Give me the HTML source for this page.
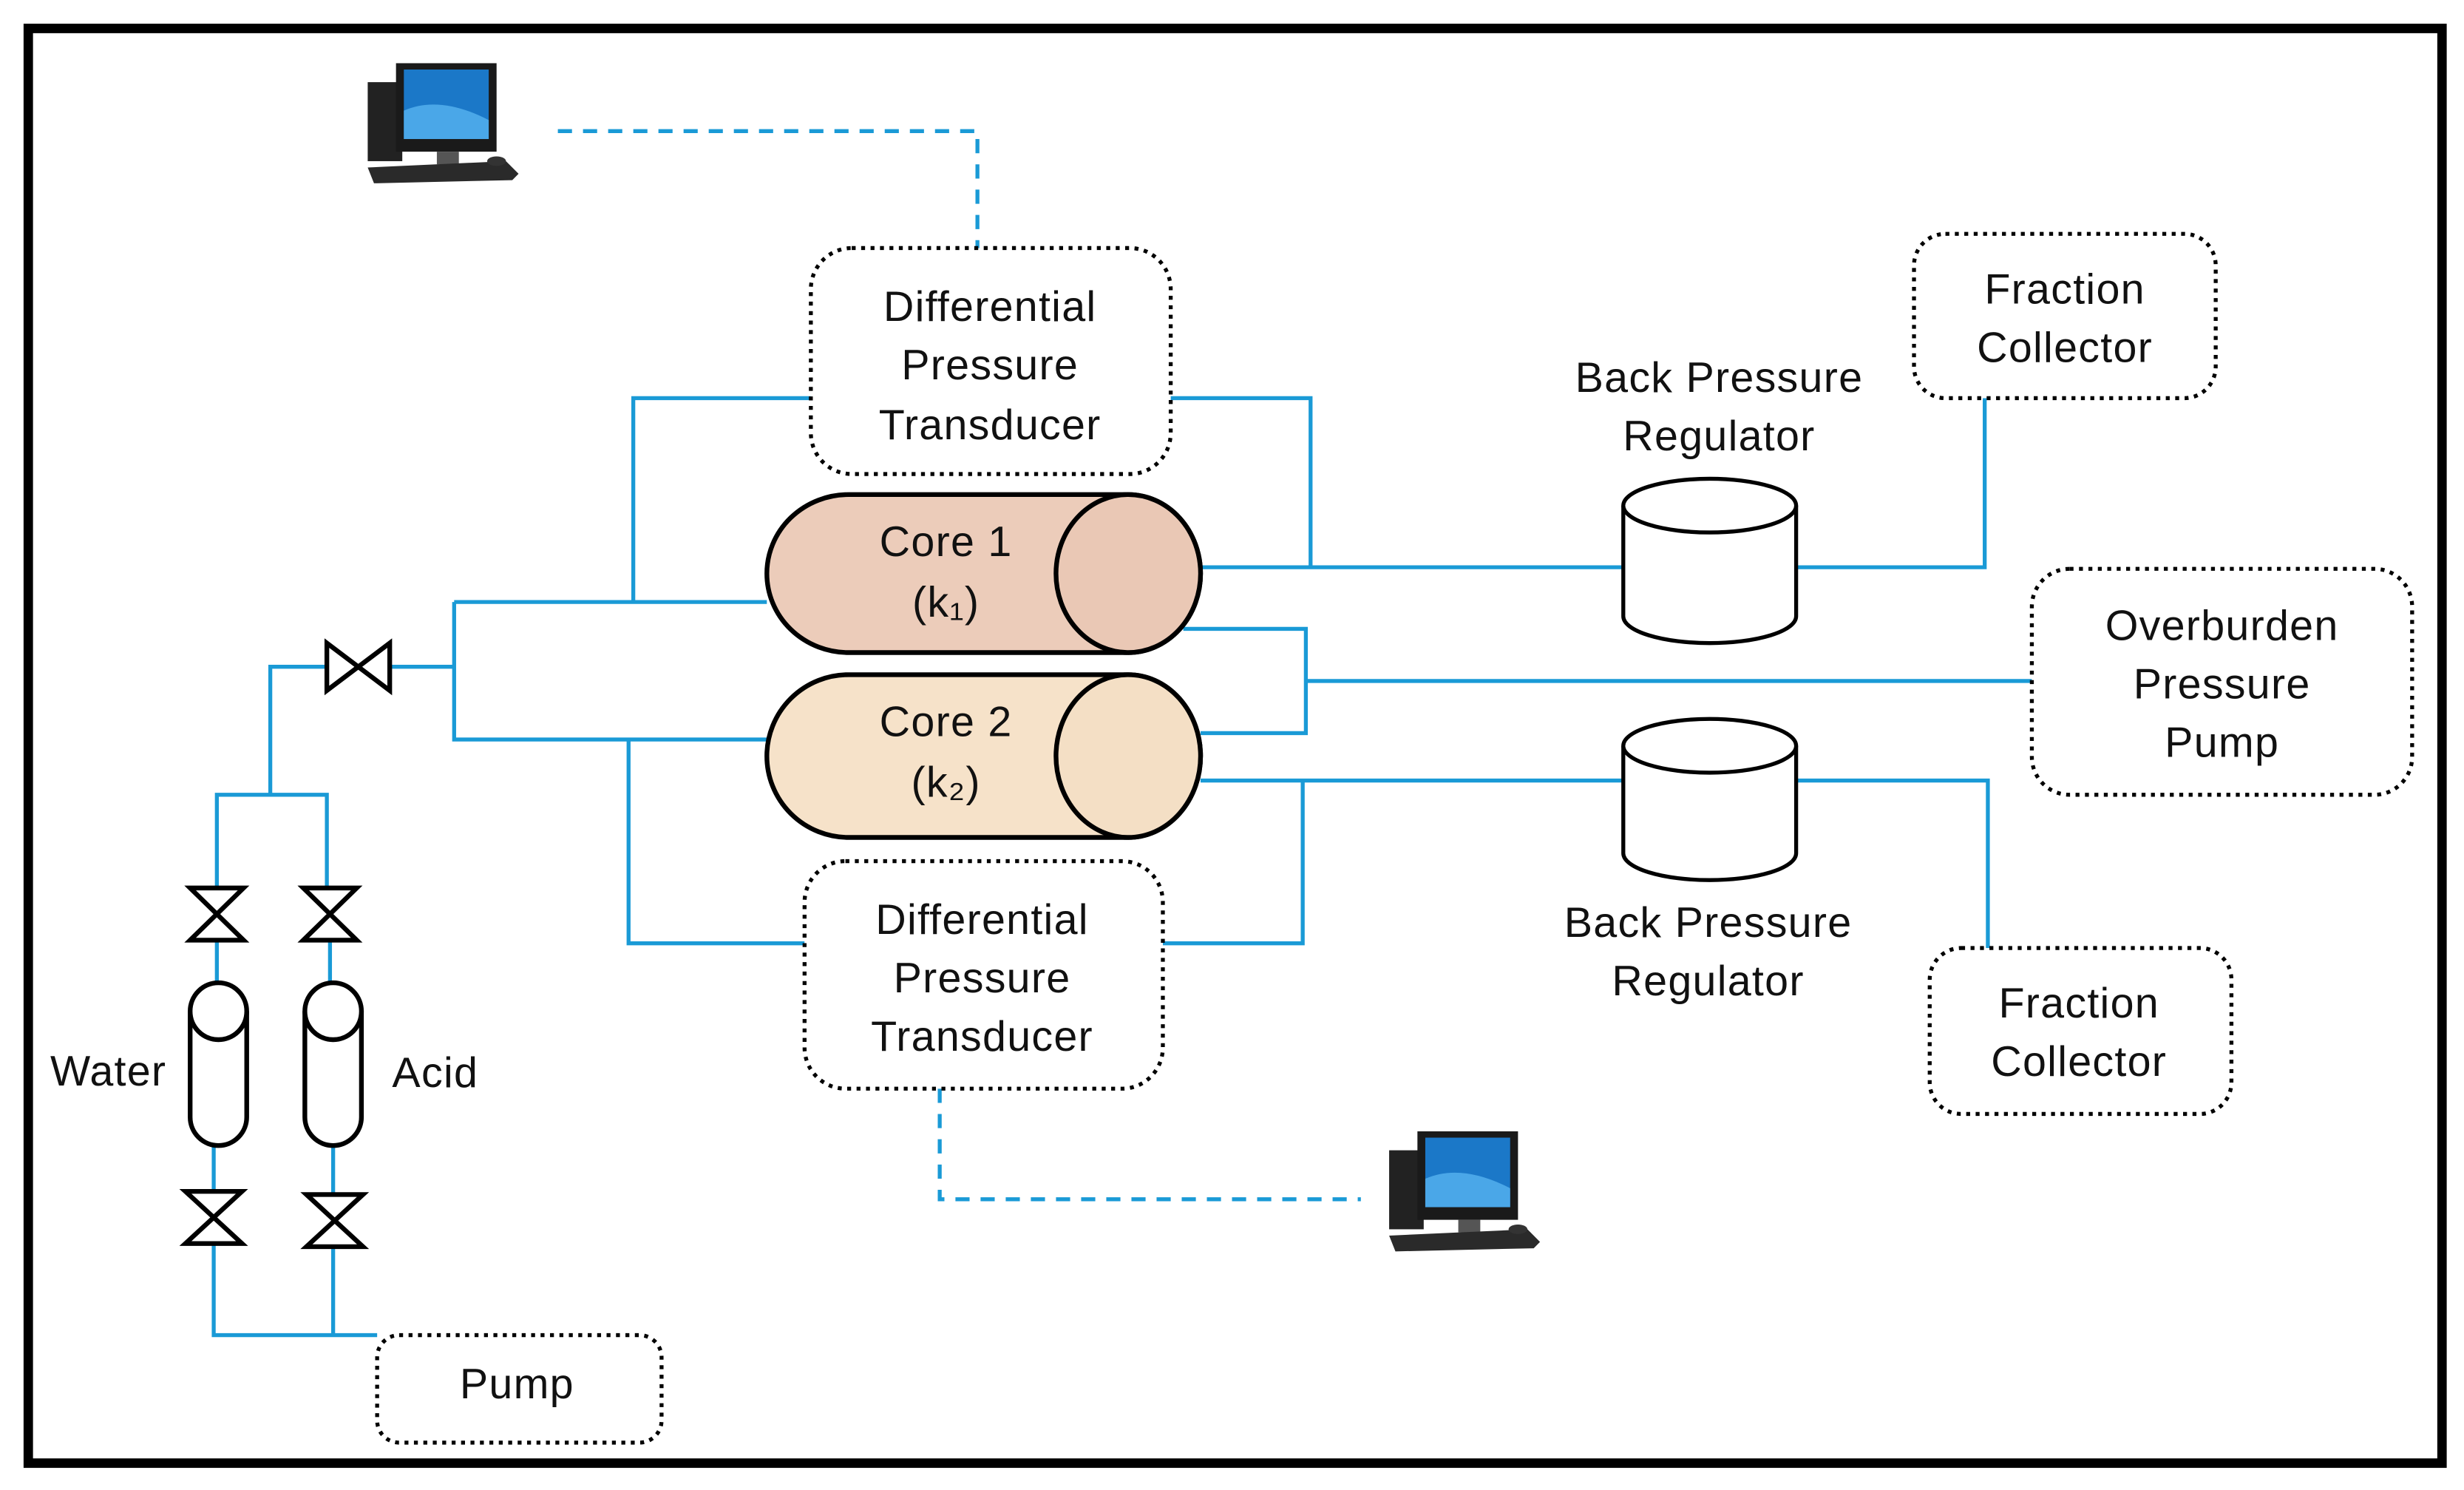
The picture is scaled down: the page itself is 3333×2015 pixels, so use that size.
<!DOCTYPE html>
<html><head><meta charset="utf-8"><style>
html,body{margin:0;padding:0;background:#fff;}
svg{display:block;}
text{font-family:"Liberation Sans","DejaVu Sans",sans-serif;font-size:27px;letter-spacing:0.6px;fill:#111;text-anchor:middle;}
</style></head><body>
<svg width="3333" height="2015" viewBox="0 0 1568 943" preserveAspectRatio="none" xmlns="http://www.w3.org/2000/svg">
<defs>
<g id="pc">
  <rect x="4" y="12" width="22" height="50" fill="#222"/>
  <rect x="22" y="0" width="64" height="56" fill="#1a1a1a"/>
  <rect x="27" y="4" width="54" height="44" fill="#1b78c8"/>
  <path d="M27 30 Q50 20 81 36 L81 48 L27 48Z" fill="#4aa7e8"/>
  <rect x="48" y="56" width="14" height="8" fill="#555"/>
  <path d="M4 66 L92 62 L100 70 L96 74 L8 76 Z" fill="#2a2a2a"/>
  <ellipse cx="86" cy="62" rx="6" ry="3" fill="#333"/>
</g>
</defs>
<rect x="18" y="18" width="1536" height="908" fill="none" stroke="#000" stroke-width="6"/>

<g fill="none" stroke="#1a9ad6" stroke-width="2.5">
  <path d="M355 83 H622 V157" stroke-dasharray="9 7"/>
  <path d="M598 689 V759 H866" stroke-dasharray="9 7"/>
  <path d="M403 381 V252 H516"/>
  <path d="M745 252 H834 V359"/>
  <path d="M764 359 H1033"/>
  <path d="M1143 359 H1263 V252"/>
  <path d="M289 381 H488 M289 381 V468 H488"/>
  <path d="M172 503 V422 H208 M248 422 H289"/>
  <path d="M138 562 V503 H208 V562"/>
  <path d="M138 595 V622 M210 595 V622"/>
  <path d="M136 725 V754 M212 725 V756"/>
  <path d="M136 787 V845 H240 M212 789 V845"/>
  <path d="M400 468 V597 H512"/>
  <path d="M740 597 H829 V494"/>
  <path d="M764 494 H1033 M1143 494 H1265 V600"/>
  <path d="M753 398 H831 V464 H764 M831 431 H1293"/>
</g>

<g fill="#fff" stroke="#000" stroke-width="3" stroke-linejoin="miter">
  <path d="M208 407 V437 L248 407 V437 Z"/>
  <path d="M121 562 H155 L121 595 H155 Z"/>
  <path d="M193 562 H227 L193 595 H227 Z"/>
  <path d="M118 754 H154 L118 787 H154 Z"/>
  <path d="M195 756 H231 L195 789 H231 Z"/>
  <path d="M121 640 A18 18 0 0 1 157 640 V707 A18 18 0 0 1 121 707 Z"/>
  <path d="M121 640 A18 18 0 0 0 157 640"/>
  <path d="M194 640 A18 18 0 0 1 230 640 V707 A18 18 0 0 1 194 707 Z"/>
  <path d="M194 640 A18 18 0 0 0 230 640"/>
</g>

<g stroke="#000" stroke-width="3">
  <path d="M540 313 H718 A46 50 0 0 1 718 413 H540 A52 50 0 0 1 540 313 Z" fill="#ecccba"/>
  <ellipse cx="718" cy="363" rx="46" ry="50" fill="#eac8b5"/>
  <path d="M540 427 H718 A46 51.5 0 0 1 718 530 H540 A52 51.5 0 0 1 540 427 Z" fill="#f6e2c9"/>
  <ellipse cx="718" cy="478.5" rx="46" ry="51.5" fill="#f4dfc5"/>
</g>
<text x="602" y="352">Core 1</text>
<text x="602" y="390">(k₁)</text>
<text x="602" y="466">Core 2</text>
<text x="602" y="504">(k₂)</text>

<g fill="#fff" stroke="#000" stroke-width="2.5">
  <path d="M1033 320 V390 A55 17 0 0 0 1143 390 V320"/>
  <ellipse cx="1088" cy="320" rx="55" ry="17"/>
  <path d="M1033 472 V540 A55 17 0 0 0 1143 540 V472"/>
  <ellipse cx="1088" cy="472" rx="55" ry="17"/>
</g>
<text x="1094" y="248">Back Pressure</text>
<text x="1094" y="285">Regulator</text>
<text x="1087" y="593">Back Pressure</text>
<text x="1087" y="630">Regulator</text>

<g fill="#fff" stroke="#000" stroke-width="2.5" stroke-dasharray="2.5 3.5">
  <rect x="516" y="157" width="229" height="143" rx="26"/>
  <rect x="512" y="545" width="228" height="144" rx="26"/>
  <rect x="1218" y="148" width="192" height="104" rx="20"/>
  <rect x="1228" y="600" width="192" height="105" rx="20"/>
  <rect x="1293" y="360" width="242" height="143" rx="24"/>
  <rect x="240" y="845" width="181" height="68" rx="14"/>
</g>
<text x="630" y="203">Differential</text>
<text x="630" y="240">Pressure</text>
<text x="630" y="278">Transducer</text>
<text x="625" y="591">Differential</text>
<text x="625" y="628">Pressure</text>
<text x="625" y="665">Transducer</text>
<text x="1314" y="192">Fraction</text>
<text x="1314" y="229">Collector</text>
<text x="1323" y="644">Fraction</text>
<text x="1323" y="681">Collector</text>
<text x="1414" y="405">Overburden</text>
<text x="1414" y="442">Pressure</text>
<text x="1414" y="479">Pump</text>
<text x="329" y="885">Pump</text>
<text x="69" y="687">Water</text>
<text x="277" y="688">Acid</text>

<use href="#pc" transform="translate(230,40)"/>
<use href="#pc" transform="translate(880,716)"/>
</svg>
</body></html>
